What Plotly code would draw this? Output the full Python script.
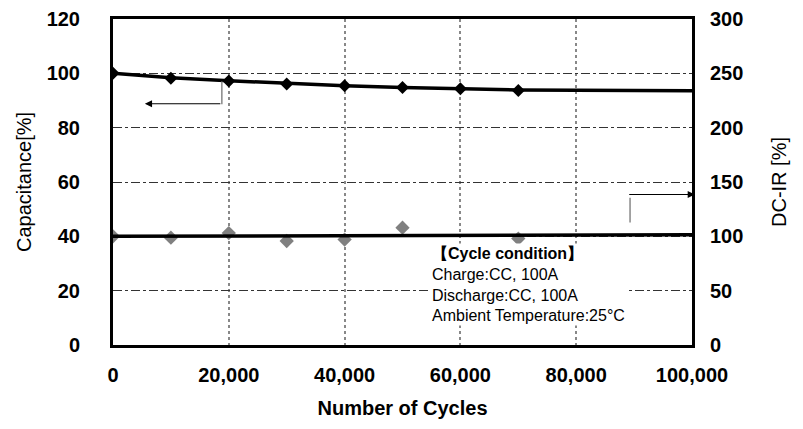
import plotly.graph_objects as go

# ---- data ----
cap_cycles = [0, 10000, 20000, 30000, 40000, 50000, 60000, 70000]
cap_values = [100, 98.2, 97.2, 96.1, 95.4, 94.8, 94.3, 93.7]
cap_trend_cycles = [0, 10000, 20000, 30000, 40000, 50000, 60000, 70000, 100000]
cap_trend_values = [100, 98.4, 97.3, 96.2, 95.4, 94.8, 94.3, 93.9, 93.6]

dcir_cycles = [0, 10000, 20000, 30000, 40000, 50000, 70000]
dcir_values = [100, 98.8, 103.0, 95.7, 97.0, 108.0, 97.9]
dcir_trend_cycles = [0, 100000]
dcir_trend_values = [100, 101.5]

x_ticks = [0, 20000, 40000, 60000, 80000, 100000]
x_ticklabels = ["0", "20,000", "40,000", "60,000", "80,000", "100,000"]
y_ticks = [0, 20, 40, 60, 80, 100, 120]
y2_ticks = [0, 50, 100, 150, 200, 250, 300]

cond_lines = ["<b>【Cycle condition】</b>", "Charge:CC, 100A",
              "Discharge:CC, 100A", "Ambient Temperature:25°C"]

FONT = "Liberation Sans, Arial, sans-serif"

fig = go.Figure()
fig.add_trace(go.Scatter(x=cap_trend_cycles, y=cap_trend_values, mode="lines",
                         line=dict(color="black", width=3.5), showlegend=False))
fig.add_trace(go.Scatter(x=cap_cycles, y=cap_values, mode="markers",
                         marker=dict(symbol="diamond", size=10, color="black"),
                         showlegend=False))
fig.add_trace(go.Scatter(x=dcir_cycles, y=dcir_values, mode="markers", yaxis="y2",
                         marker=dict(symbol="diamond", size=11, color="#808080"),
                         showlegend=False))
fig.add_trace(go.Scatter(x=dcir_trend_cycles, y=dcir_trend_values, mode="lines", yaxis="y2",
                         line=dict(color="black", width=3.5), showlegend=False))

fig.update_layout(
    width=795, height=421,
    margin=dict(l=105, r=111, t=11, b=84),
    paper_bgcolor="white", plot_bgcolor="white",
    font=dict(family=FONT, color="black"),
    xaxis=dict(range=[0, 100000], tickvals=x_ticks, ticktext=x_ticklabels,
               automargin=False, ticklabeloverflow="allow",
               showline=True, linecolor="black", linewidth=3, mirror=True,
               showgrid=True, gridcolor="#888888", griddash="dot", gridwidth=1.5,
               zeroline=False, ticks="", ticklabelstandoff=10,
               tickfont=dict(size=20, family=FONT, weight="bold"),
               title=dict(text="<b>Number of Cycles</b>", font=dict(size=20), standoff=16)),
    yaxis=dict(range=[0, 120], tickvals=y_ticks, automargin=False,
               ticklabeloverflow="allow",
               showline=True, linecolor="black", linewidth=3,
               showgrid=True, gridcolor="#333333", griddash="dashdot", gridwidth=1,
               zeroline=False, ticks="", ticklabelstandoff=26,
               tickfont=dict(size=20, family=FONT, weight="bold"),
               title=dict(text="Capacitance[%]", font=dict(size=20), standoff=10)),
    yaxis2=dict(range=[0, 300], tickvals=y2_ticks, overlaying="y", side="right",
                automargin=False, ticklabeloverflow="allow",
                showline=True, linecolor="black", linewidth=3,
                showgrid=False, zeroline=False, ticks="", ticklabelstandoff=11,
                tickfont=dict(size=20, family=FONT, weight="bold"),
                title=dict(text="DC-IR [%]", font=dict(size=20), standoff=30)),
)

# left callout: vertical gray line + arrow to left axis
fig.add_shape(type="line", x0=18800, x1=18800, y0=97.0, y1=88.6,
              line=dict(color="#888888", width=1.5), xref="x", yref="y")
fig.add_annotation(x=5500, y=88.8, ax=18800, ay=88.8, xref="x", yref="y",
                   axref="x", ayref="y", text="", showarrow=True,
                   arrowhead=2, arrowsize=1.2, arrowwidth=1.2, arrowcolor="black")

# right callout: vertical gray line + arrow to right axis
fig.add_shape(type="line", x0=89300, x1=89300, y0=135.5, y1=112.8,
              line=dict(color="#888888", width=1.5), xref="x", yref="y2")
fig.add_annotation(x=100500, y=138.5, ax=88900, ay=138.5, xref="x", yref="y2",
                   axref="x", ayref="y2", text="", showarrow=True,
                   arrowhead=2, arrowsize=1.2, arrowwidth=1.2, arrowcolor="black")

# cycle condition text box
fig.add_annotation(x=54800, y=37.5, xref="x", yref="y", xanchor="left", yanchor="top",
                   text="<br>".join(cond_lines), showarrow=False, align="left",
                   font=dict(size=16, family=FONT, color="black"),
                   bgcolor="white", borderpad=1)

fig.write_html("out.html")
